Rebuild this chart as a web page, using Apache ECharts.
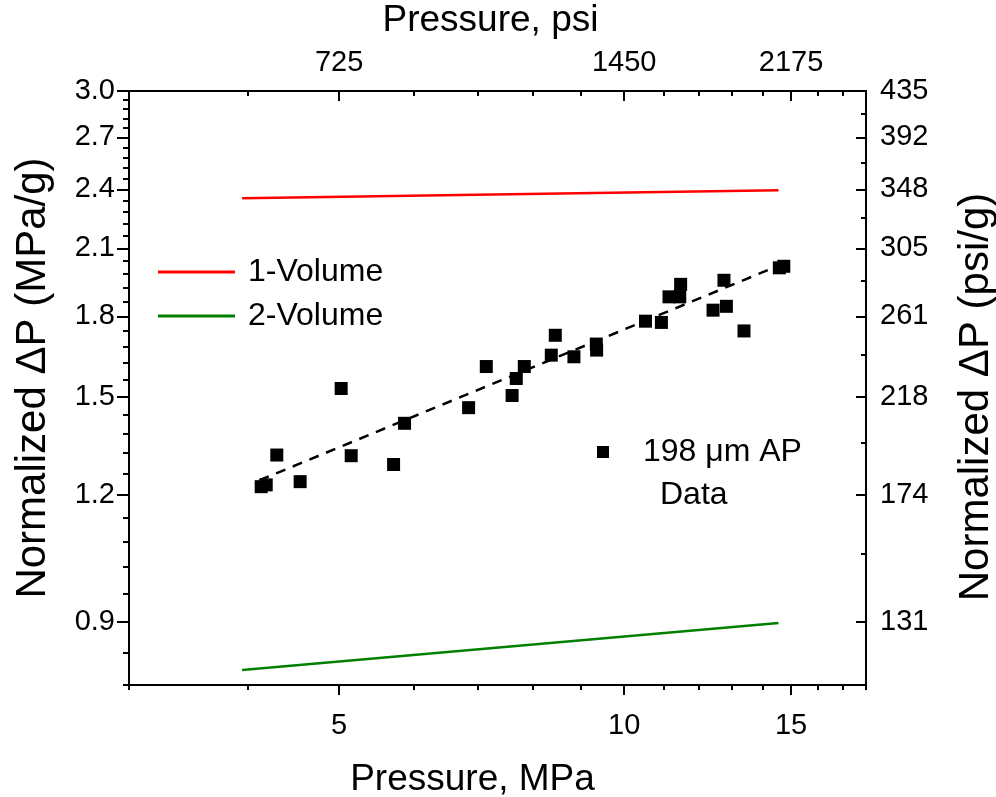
<!DOCTYPE html>
<html>
<head>
<meta charset="utf-8">
<script src="https://cdn.jsdelivr.net/npm/echarts@6/dist/echarts.min.js"></script>
<style>html,body{margin:0;padding:0;background:#fff}#chart{width:996px;height:797px}</style>
</head>
<body>
<div id="chart"></div>
<script>
// ---- data ----
var xMajorTicks = [5, 10, 15];
var xMinorTicks = [3, 4, 5, 6, 7, 8, 9, 10, 11, 12, 13, 14, 15, 16, 17, 18];
var psiTopLabels = ['725', '1450', '2175'];
var yMajorTicks = [0.9, 1.2, 1.5, 1.8, 2.1, 2.4, 2.7, 3.0];
var yMinorTicks = [0.78, 0.84, 0.96, 1.02, 1.08, 1.14, 1.26, 1.32, 1.38, 1.44, 1.56, 1.62, 1.68, 1.74,
                   1.86, 1.92, 1.98, 2.04, 2.16, 2.22, 2.28, 2.34, 2.46, 2.52, 2.58, 2.64, 2.76, 2.82, 2.88, 2.94];
var yRightMinorTicks = [1.05, 1.35, 1.65, 1.95, 2.25, 2.55, 2.85];
var psiRightLabels = ['131', '174', '218', '261', '305', '348', '392', '435'];

var oneVolume = [[3.95, 2.352], [14.55, 2.395]];
var twoVolume = [[3.95, 0.807], [14.55, 0.898]];
var fitLine = [[4.12, 1.241], [14.5, 2.016]];
var apData = [
  [4.137, 1.223], [4.188, 1.228], [4.297, 1.314], [4.548, 1.237], [5.025, 1.528],
  [5.149, 1.312], [5.708, 1.286], [5.862, 1.412], [6.85, 1.463], [7.151, 1.606],
  [7.614, 1.504], [7.692, 1.563], [7.843, 1.606], [8.375, 1.648], [8.457, 1.724],
  [8.849, 1.642], [9.344, 1.690], [9.351, 1.667], [10.53, 1.780], [10.946, 1.775],
  [11.15, 1.881], [11.47, 1.935], [11.445, 1.881], [12.41, 1.825], [12.744, 1.953],
  [12.82, 1.841], [13.38, 1.741], [14.58, 2.009], [14.74, 2.016]
];

var FONT = 'Liberation Sans, Arial, sans-serif';
var BLACK = '#000';

function axisBase(extra) {
  var a = {
    type: 'log', logBase: 10,
    axisLine: { show: true, lineStyle: { color: BLACK, width: 2 } },
    splitLine: { show: false },
    minorTick: { show: false },
    minorSplitLine: { show: false }
  };
  for (var k in extra) a[k] = extra[k];
  return a;
}

var labelStyle = { color: BLACK, fontSize: 29, fontFamily: FONT, hideOverlap: false };
function lbl(o) { var r = {}; for (var k in labelStyle) r[k] = labelStyle[k]; for (var k2 in o) r[k2] = o[k2]; return r; }
function nm(size, pad) { return { color: BLACK, fontSize: size, fontFamily: FONT, padding: pad }; }

var option = {
  backgroundColor: '#fff',
  animation: false,
  grid: { left: 129, right: 130, top: 91, bottom: 112, containLabel: false, outerBoundsMode: 'none' },
  xAxis: [
    axisBase({ position: 'bottom', min: 3, max: 18,
      name: 'Pressure, MPa', nameLocation: 'middle', nameGap: 76, nameTextStyle: nm(37, [0, 50, 0, 0]),
      axisTick: { show: true, inside: false, length: 10, lineStyle: { color: BLACK, width: 2 }, customValues: xMajorTicks },
      axisLabel: lbl({ margin: 26, customValues: xMajorTicks }) }),
    axisBase({ position: 'bottom', min: 3, max: 18,
      axisTick: { show: true, inside: false, length: 5, lineStyle: { color: BLACK, width: 2 }, customValues: xMinorTicks },
      axisLabel: { show: false } }),
    axisBase({ position: 'top', min: 3, max: 18,
      name: 'Pressure, psi', nameLocation: 'middle', nameGap: 52, nameTextStyle: nm(37, [0, 14, 0, 0]),
      axisTick: { show: true, inside: true, length: 10, lineStyle: { color: BLACK, width: 2 }, customValues: xMajorTicks },
      axisLabel: lbl({ margin: 14, customValues: xMajorTicks,
        formatter: function (v) { var i = xMajorTicks.indexOf(Math.round(v)); return i >= 0 ? psiTopLabels[i] : ''; } }) }),
    axisBase({ position: 'top', min: 3, max: 18,
      axisTick: { show: true, inside: true, length: 5, lineStyle: { color: BLACK, width: 2 }, customValues: xMinorTicks },
      axisLabel: { show: false } })
  ],
  yAxis: [
    axisBase({ position: 'left', min: 0.78, max: 3.0,
      name: 'Normalized \u0394P (MPa/g)', nameLocation: 'middle', nameGap: 75, nameRotate: 90, nameTextStyle: nm(42, [0, 0, 0, 20]),
      axisTick: { show: true, inside: false, length: 12, lineStyle: { color: BLACK, width: 2 }, customValues: yMajorTicks },
      axisLabel: lbl({ margin: 14, customValues: yMajorTicks, formatter: function (v) { return Number(v).toFixed(1); } }) }),
    axisBase({ position: 'left', min: 0.78, max: 3.0,
      axisTick: { show: true, inside: false, length: 6, lineStyle: { color: BLACK, width: 2 }, customValues: yMinorTicks },
      axisLabel: { show: false } }),
    axisBase({ position: 'right', min: 0.78, max: 3.0,
      name: 'Normalized \u0394P (psi/g)', nameLocation: 'middle', nameGap: 89, nameRotate: 90, nameTextStyle: nm(42, [0, 18, 0, 0]),
      axisTick: { show: true, inside: true, length: 10, lineStyle: { color: BLACK, width: 2 }, customValues: yMajorTicks },
      axisLabel: lbl({ margin: 14, customValues: yMajorTicks,
        formatter: function (v) { var best = 0, d = 1e9; for (var i = 0; i < yMajorTicks.length; i++) { var dd = Math.abs(yMajorTicks[i] - v); if (dd < d) { d = dd; best = i; } } return psiRightLabels[best]; } }) }),
    axisBase({ position: 'right', min: 0.78, max: 3.0,
      axisTick: { show: true, inside: true, length: 5, lineStyle: { color: BLACK, width: 2 }, customValues: yRightMinorTicks },
      axisLabel: { show: false } })
  ],
  legend: [
    { orient: 'vertical', left: 158, top: 250, padding: 0, itemGap: 0, selectedMode: false,
      itemWidth: 77, itemHeight: 3,
      textStyle: { color: BLACK, fontSize: 32, fontFamily: FONT, lineHeight: 44, padding: [0, 0, 0, 8] },
      data: [ { name: '1-Volume', icon: 'rect' }, { name: '2-Volume', icon: 'rect' } ] },
    { orient: 'vertical', left: 597, top: 436, padding: 0, itemGap: 0, selectedMode: false,
      itemWidth: 12, itemHeight: 12,
      textStyle: { color: BLACK, fontSize: 32, fontFamily: FONT, lineHeight: 32, padding: [0, 0, 0, 29] },
      data: [ { name: '198 \u03bcm AP', icon: 'rect', itemStyle: { color: BLACK, opacity: 1 } } ] }
  ],
  graphic: [
    { type: 'text', left: 660, top: 479, silent: true,
      style: { text: 'Data', fill: BLACK, fontSize: 32, fontFamily: FONT } }
  ],
  series: [
    { name: '1-Volume', type: 'line', xAxisIndex: 0, yAxisIndex: 0, data: oneVolume, symbol: 'none',
      lineStyle: { color: '#ff0000', width: 2.5 }, itemStyle: { color: '#ff0000' } },
    { name: '2-Volume', type: 'line', xAxisIndex: 0, yAxisIndex: 0, data: twoVolume, symbol: 'none',
      lineStyle: { color: '#008000', width: 2.5 }, itemStyle: { color: '#008000' } },
    { name: 'fit', type: 'line', xAxisIndex: 0, yAxisIndex: 0, data: fitLine, symbol: 'none',
      lineStyle: { color: BLACK, width: 2.5, type: [10, 8] }, itemStyle: { color: BLACK } },
    { name: '198 \u03bcm AP', type: 'scatter', xAxisIndex: 0, yAxisIndex: 0, data: apData, symbol: 'rect', symbolSize: 13,
      itemStyle: { color: BLACK, opacity: 1 } }
  ]
};

var chart = echarts.init(document.getElementById('chart'), null, { renderer: 'canvas' });
chart.setOption(option);
</script>
</body>
</html>
